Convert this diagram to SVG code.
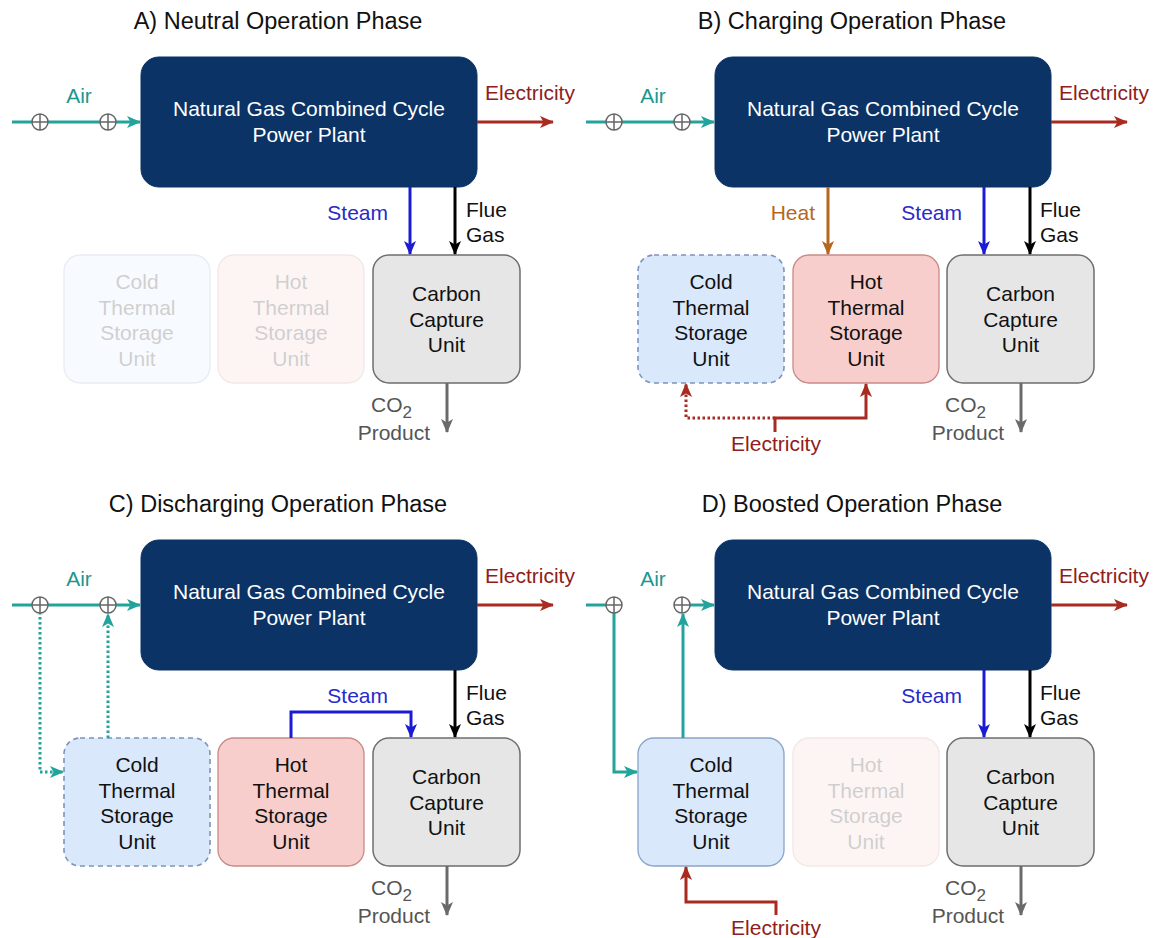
<svg xmlns="http://www.w3.org/2000/svg" width="1156" height="938" viewBox="0 0 1156 938">
<defs>
<style>
text{font-family:"Liberation Sans",Arial,Helvetica,sans-serif;}
.title{font-size:23.5px;fill:#111;text-anchor:middle;}
.ngcc rect{fill:#0b3366;stroke:#0b3366;stroke-width:1;}
.ngcc text{fill:#fff;font-size:21px;text-anchor:middle;}
.node text{font-size:21px;text-anchor:middle;fill:#111;}
.cold rect{fill:#dae8fc;stroke:#8aa3c8;stroke-width:1.3;}
.cold.dash rect{stroke-dasharray:5 4;stroke:#7c93bd;stroke-width:1.6;}
.hot rect{fill:#f8cecc;stroke:#c88a88;stroke-width:1.3;}
.ccu rect{fill:#e6e6e6;stroke:#6e6e6e;stroke-width:1.5;}
.faded{opacity:0.2;}
.lbl{font-size:21px;}
.teal{stroke:#22a49c;}
.elec{stroke:#a82a20;}
.steam{stroke:#1b1bd4;}
.heat{stroke:#b5661f;}
.flue{stroke:#000;}
.co2{stroke:#6a6a6a;}
.c path,.c line{fill:none;stroke-width:3;}
.dot{stroke-dasharray:2.5 2.5;}
.valve circle{fill:#fff;stroke:#666;stroke-width:1.5;}
.valve path{stroke:#666;stroke-width:1.5;fill:none;}
</style>
<marker id="mTeal" markerUnits="userSpaceOnUse" markerWidth="15" markerHeight="14" refX="14" refY="7" orient="auto"><path d="M1,1 L15,7 L1,13 L4.5,7 z" fill="#22a49c"/></marker>
<marker id="mElec" markerUnits="userSpaceOnUse" markerWidth="15" markerHeight="14" refX="14" refY="7" orient="auto"><path d="M1,1 L15,7 L1,13 L4.5,7 z" fill="#a82a20"/></marker>
<marker id="mSteam" markerUnits="userSpaceOnUse" markerWidth="15" markerHeight="14" refX="14" refY="7" orient="auto"><path d="M1,1 L15,7 L1,13 L4.5,7 z" fill="#1b1bd4"/></marker>
<marker id="mHeat" markerUnits="userSpaceOnUse" markerWidth="15" markerHeight="14" refX="14" refY="7" orient="auto"><path d="M1,1 L15,7 L1,13 L4.5,7 z" fill="#b5661f"/></marker>
<marker id="mFlue" markerUnits="userSpaceOnUse" markerWidth="15" markerHeight="14" refX="14" refY="7" orient="auto"><path d="M1,1 L15,7 L1,13 L4.5,7 z" fill="#000"/></marker>
<marker id="mCo2" markerUnits="userSpaceOnUse" markerWidth="15" markerHeight="14" refX="14" refY="7" orient="auto"><path d="M1,1 L15,7 L1,13 L4.5,7 z" fill="#6a6a6a"/></marker>
<g id="valve" class="valve"><circle cx="0" cy="0" r="8"/><path d="M-8,0 H8 M0,-8 V8"/></g>
</defs>
<rect x="0" y="0" width="1156" height="938" fill="#fff"/>

<!-- Panel A -->
<g id="panelA">
<text class="title" x="278" y="29">A) Neutral Operation Phase</text>
<g id="A-ngcc" class="ngcc"><rect x="141" y="57" width="336" height="130" rx="18"/><text x="309" y="116">Natural Gas Combined Cycle</text><text x="309" y="142">Power Plant</text></g>
<g id="A-cold" class="node cold faded"><rect x="64" y="255" width="146" height="128" rx="16"/><text x="137" y="289">Cold</text><text x="137" y="315">Thermal</text><text x="137" y="340">Storage</text><text x="137" y="366">Unit</text></g>
<g id="A-hot" class="node hot faded"><rect x="218" y="255" width="146" height="128" rx="16"/><text x="291" y="289">Hot</text><text x="291" y="315">Thermal</text><text x="291" y="340">Storage</text><text x="291" y="366">Unit</text></g>
<g id="A-ccu" class="node ccu"><rect x="373" y="255" width="147" height="128" rx="16"/><text x="446.5" y="301">Carbon</text><text x="446.5" y="327">Capture</text><text x="446.5" y="352">Unit</text></g>
<g id="A-connectors" class="c">
<line class="teal" x1="12" y1="122" x2="140" y2="122" marker-end="url(#mTeal)"/>
<use href="#valve" x="40" y="122"/><use href="#valve" x="108" y="122"/>
<line class="elec" x1="477" y1="122" x2="553" y2="122" marker-end="url(#mElec)"/>
<line class="steam" x1="410" y1="187" x2="410" y2="254" marker-end="url(#mSteam)"/>
<line class="flue" x1="455" y1="187" x2="455" y2="254" marker-end="url(#mFlue)"/>
<line class="co2" x1="447" y1="383" x2="447" y2="432" marker-end="url(#mCo2)"/>
<text class="lbl" x="79" y="103" text-anchor="middle" fill="#1e9690">Air</text>
<text class="lbl" x="530" y="100" text-anchor="middle" fill="#8f2020">Electricity</text>
<text class="lbl" x="388" y="220" text-anchor="end" fill="#2a2ac8">Steam</text>
<text class="lbl" x="466" y="217" fill="#111">Flue</text>
<text class="lbl" x="466" y="242" fill="#111">Gas</text>
<text class="lbl" x="371" y="412" fill="#555">CO<tspan font-size="17" dy="6">2</tspan></text>
<text class="lbl" x="430" y="440" text-anchor="end" fill="#555">Product</text>
</g>
</g>

<!-- Panel B -->
<g id="panelB" transform="translate(574,0)">
<text class="title" x="278" y="29">B) Charging Operation Phase</text>
<g id="B-ngcc" class="ngcc"><rect x="141" y="57" width="336" height="130" rx="18"/><text x="309" y="116">Natural Gas Combined Cycle</text><text x="309" y="142">Power Plant</text></g>
<g id="B-cold" class="node cold dash"><rect x="64" y="255" width="146" height="128" rx="16"/><text x="137" y="289">Cold</text><text x="137" y="315">Thermal</text><text x="137" y="340">Storage</text><text x="137" y="366">Unit</text></g>
<g id="B-hot" class="node hot"><rect x="219" y="255" width="146" height="128" rx="16"/><text x="292" y="289">Hot</text><text x="292" y="315">Thermal</text><text x="292" y="340">Storage</text><text x="292" y="366">Unit</text></g>
<g id="B-ccu" class="node ccu"><rect x="373" y="255" width="147" height="128" rx="16"/><text x="446.5" y="301">Carbon</text><text x="446.5" y="327">Capture</text><text x="446.5" y="352">Unit</text></g>
<g id="B-connectors" class="c">
<line class="teal" x1="12" y1="122" x2="140" y2="122" marker-end="url(#mTeal)"/>
<use href="#valve" x="40" y="122"/><use href="#valve" x="108" y="122"/>
<line class="elec" x1="477" y1="122" x2="553" y2="122" marker-end="url(#mElec)"/>
<line class="heat" x1="254" y1="187" x2="254" y2="254" marker-end="url(#mHeat)"/>
<line class="steam" x1="410" y1="187" x2="410" y2="254" marker-end="url(#mSteam)"/>
<line class="flue" x1="456" y1="187" x2="456" y2="254" marker-end="url(#mFlue)"/>
<line class="co2" x1="447" y1="383" x2="447" y2="432" marker-end="url(#mCo2)"/>
<path class="elec" d="M201,432 V418 H292 V384" marker-end="url(#mElec)"/>
<path class="elec dot" d="M201,418 H112 V384" marker-end="url(#mElec)"/>
<text class="lbl" x="79" y="103" text-anchor="middle" fill="#1e9690">Air</text>
<text class="lbl" x="530" y="100" text-anchor="middle" fill="#8f2020">Electricity</text>
<text class="lbl" x="241" y="220" text-anchor="end" fill="#b5661f">Heat</text>
<text class="lbl" x="388" y="220" text-anchor="end" fill="#2a2ac8">Steam</text>
<text class="lbl" x="466" y="217" fill="#111">Flue</text>
<text class="lbl" x="466" y="242" fill="#111">Gas</text>
<text class="lbl" x="371" y="412" fill="#555">CO<tspan font-size="17" dy="6">2</tspan></text>
<text class="lbl" x="430" y="440" text-anchor="end" fill="#555">Product</text>
<text class="lbl" x="202" y="451" text-anchor="middle" fill="#8f2020">Electricity</text>
</g>
</g>

<!-- Panel C -->
<g id="panelC" transform="translate(0,483)">
<text class="title" x="278" y="29">C) Discharging Operation Phase</text>
<g id="C-ngcc" class="ngcc"><rect x="141" y="57" width="336" height="130" rx="18"/><text x="309" y="116">Natural Gas Combined Cycle</text><text x="309" y="142">Power Plant</text></g>
<g id="C-cold" class="node cold dash"><rect x="64" y="255" width="146" height="128" rx="16"/><text x="137" y="289">Cold</text><text x="137" y="315">Thermal</text><text x="137" y="340">Storage</text><text x="137" y="366">Unit</text></g>
<g id="C-hot" class="node hot"><rect x="218" y="255" width="146" height="128" rx="16"/><text x="291" y="289">Hot</text><text x="291" y="315">Thermal</text><text x="291" y="340">Storage</text><text x="291" y="366">Unit</text></g>
<g id="C-ccu" class="node ccu"><rect x="373" y="255" width="147" height="128" rx="16"/><text x="446.5" y="301">Carbon</text><text x="446.5" y="327">Capture</text><text x="446.5" y="352">Unit</text></g>
<g id="C-connectors" class="c">
<path class="teal dot" d="M40,129 V289 H63" marker-end="url(#mTeal)"/>
<path class="teal dot" d="M108,255 V131" marker-end="url(#mTeal)"/>
<line class="teal" x1="12" y1="122" x2="140" y2="122" marker-end="url(#mTeal)"/>
<use href="#valve" x="40" y="122"/><use href="#valve" x="108" y="122"/>
<line class="elec" x1="477" y1="122" x2="553" y2="122" marker-end="url(#mElec)"/>
<path class="steam" d="M291,255 V229 H411 V254" marker-end="url(#mSteam)"/>
<line class="flue" x1="455" y1="187" x2="455" y2="254" marker-end="url(#mFlue)"/>
<line class="co2" x1="447" y1="383" x2="447" y2="432" marker-end="url(#mCo2)"/>
<text class="lbl" x="79" y="103" text-anchor="middle" fill="#1e9690">Air</text>
<text class="lbl" x="530" y="100" text-anchor="middle" fill="#8f2020">Electricity</text>
<text class="lbl" x="388" y="220" text-anchor="end" fill="#2a2ac8">Steam</text>
<text class="lbl" x="466" y="217" fill="#111">Flue</text>
<text class="lbl" x="466" y="242" fill="#111">Gas</text>
<text class="lbl" x="371" y="412" fill="#555">CO<tspan font-size="17" dy="6">2</tspan></text>
<text class="lbl" x="430" y="440" text-anchor="end" fill="#555">Product</text>
</g>
</g>

<!-- Panel D -->
<g id="panelD" transform="translate(574,483)">
<text class="title" x="278" y="29">D) Boosted Operation Phase</text>
<g id="D-ngcc" class="ngcc"><rect x="141" y="57" width="336" height="130" rx="18"/><text x="309" y="116">Natural Gas Combined Cycle</text><text x="309" y="142">Power Plant</text></g>
<g id="D-cold" class="node cold"><rect x="64" y="255" width="146" height="128" rx="16"/><text x="137" y="289">Cold</text><text x="137" y="315">Thermal</text><text x="137" y="340">Storage</text><text x="137" y="366">Unit</text></g>
<g id="D-hot" class="node hot faded"><rect x="219" y="255" width="146" height="128" rx="16"/><text x="292" y="289">Hot</text><text x="292" y="315">Thermal</text><text x="292" y="340">Storage</text><text x="292" y="366">Unit</text></g>
<g id="D-ccu" class="node ccu"><rect x="373" y="255" width="147" height="128" rx="16"/><text x="446.5" y="301">Carbon</text><text x="446.5" y="327">Capture</text><text x="446.5" y="352">Unit</text></g>
<g id="D-connectors" class="c">
<line class="teal" x1="12" y1="122" x2="34" y2="122"/>
<path class="teal" d="M40,129 V289 H63" marker-end="url(#mTeal)"/>
<path class="teal" d="M109,255 V131" marker-end="url(#mTeal)"/>
<line class="teal" x1="115" y1="122" x2="140" y2="122" marker-end="url(#mTeal)"/>
<use href="#valve" x="40" y="122"/><use href="#valve" x="108" y="122"/>
<line class="elec" x1="477" y1="122" x2="553" y2="122" marker-end="url(#mElec)"/>
<line class="steam" x1="410" y1="187" x2="410" y2="254" marker-end="url(#mSteam)"/>
<line class="flue" x1="456" y1="187" x2="456" y2="254" marker-end="url(#mFlue)"/>
<line class="co2" x1="447" y1="383" x2="447" y2="432" marker-end="url(#mCo2)"/>
<path class="elec" d="M202,432 V419 H112 V384" marker-end="url(#mElec)"/>
<text class="lbl" x="79" y="103" text-anchor="middle" fill="#1e9690">Air</text>
<text class="lbl" x="530" y="100" text-anchor="middle" fill="#8f2020">Electricity</text>
<text class="lbl" x="388" y="220" text-anchor="end" fill="#2a2ac8">Steam</text>
<text class="lbl" x="466" y="217" fill="#111">Flue</text>
<text class="lbl" x="466" y="242" fill="#111">Gas</text>
<text class="lbl" x="371" y="412" fill="#555">CO<tspan font-size="17" dy="6">2</tspan></text>
<text class="lbl" x="430" y="440" text-anchor="end" fill="#555">Product</text>
<text class="lbl" x="202" y="452" text-anchor="middle" fill="#8f2020">Electricity</text>
</g>
</g>
</svg>
